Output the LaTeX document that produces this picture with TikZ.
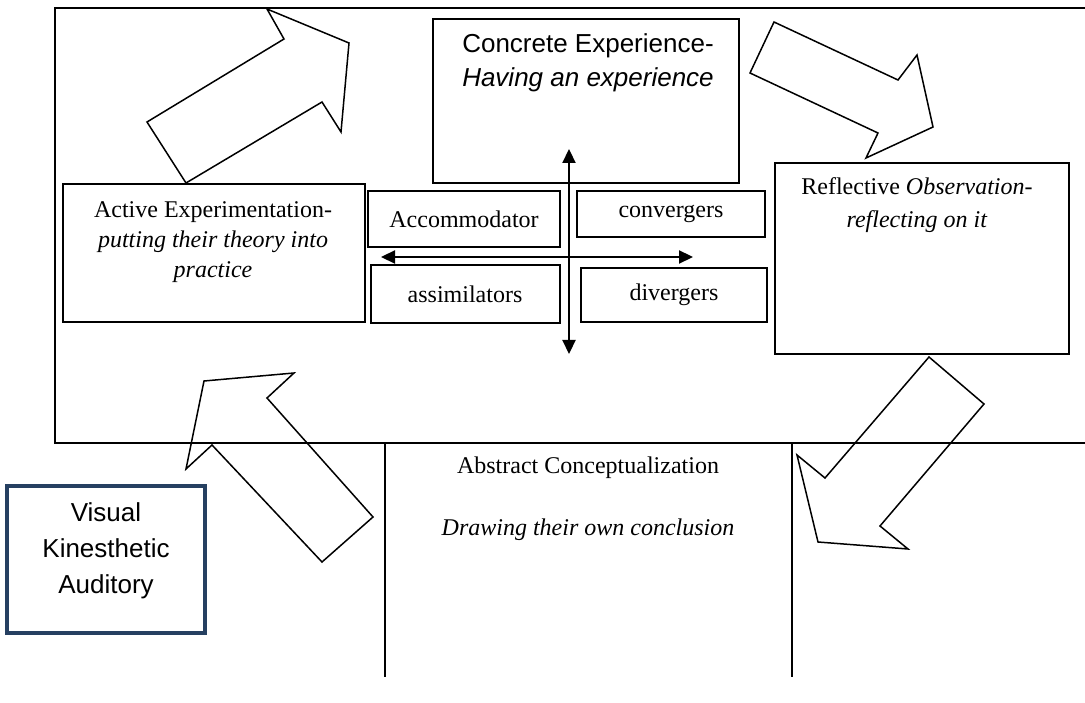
\documentclass[tikz,border=0pt]{standalone}
\usepackage{fontspec}
\setmainfont{Liberation Serif}
\newfontfamily\arialf{Liberation Sans}
\usetikzlibrary{arrows.meta}
\definecolor{navy}{RGB}{38,64,97}
\begin{document}
\begin{tikzpicture}[x=1pt,y=-1pt,
  box/.style={draw, line width=1.6pt, inner sep=0pt, outer sep=0pt, anchor=north west},
  frameline/.style={line width=2.6pt},
  divline/.style={line width=1.6pt},
  blockarrow/.style={draw, line width=1.5pt, line join=miter},
  axis/.style={line width=2.2pt, {Triangle[length=14pt,width=13pt]}-{Triangle[length=14pt,width=13pt]}},
  serif/.style={font=\fontsize{24}{30}\selectfont, align=center, inner sep=0pt},
  sans/.style={font=\arialf\fontsize{26}{34}\selectfont, align=center, inner sep=0pt}]
\useasboundingbox (0,0) rectangle (1085,703);

% outer frame
\coordinate (ftl) at (55,8);
\coordinate (ftr) at (1085,8);
\coordinate (fbl) at (55,443);
\coordinate (fbr) at (1085,443);
\draw[frameline] (ftr) -- (ftl) -- (fbl) -- (fbr);
% lower column lines
\coordinate (c1t) at (385,443);
\coordinate (c1b) at (385,677);
\coordinate (c2t) at (792,443);
\coordinate (c2b) at (792,677);
\draw[divline] (c1t) -- (c1b);
\draw[divline] (c2t) -- (c2b);

% boxes
\node[box, minimum width=306pt, minimum height=164pt] (ce) at (433,19) {};
\node[box, minimum width=294pt, minimum height=191pt] (ro) at (775,163) {};
\node[box, minimum width=302pt, minimum height=138pt] (ae) at (63,184) {};
\node[box, minimum width=192pt, minimum height=56pt] (acc) at (368,191) {};
\node[box, minimum width=188pt, minimum height=46pt] (con) at (577,191) {};
\node[box, minimum width=189pt, minimum height=58pt] (ass) at (371,265) {};
\node[box, minimum width=186pt, minimum height=54pt] (div) at (581,268) {};
\node[draw=navy, line width=4pt, inner sep=0pt, outer sep=0pt, anchor=north west,
      minimum width=198pt, minimum height=147pt] (vka) at (7,486) {};

% texts
\node[sans] (cet) at (588,63) {Concrete Experience-\\\textit{Having an experience}};
\node[serif] (aet) at (213,242) {Active Experimentation-\\\textit{putting their theory into}\\\textit{practice}};
\node[serif, font=\fontsize{24}{33}\selectfont] (rot) at (917,205) {Reflective \textit{Observation-}\\\textit{reflecting on it}};
\node[serif] (acct) at (464,219) {Accommodator};
\node[serif] (cont) at (671,214) {convergers};
\node[serif] (asst) at (465,294) {assimilators};
\node[serif] (divt) at (674,295) {divergers};
\node[serif] (act) at (588,468) {Abstract Conceptualization};
\node[serif] (dtc) at (588,530) {\textit{Drawing their own conclusion}};
\node[sans, font=\arialf\fontsize{26}{36}\selectfont] (vkat) at (106,551) {Visual\\Kinesthetic\\Auditory};

% central axes
\coordinate (vt) at (569,149);
\coordinate (vb) at (569,354);
\coordinate (hl) at (381,257);
\coordinate (hr) at (693,257);
\draw[axis] (vt) -- (vb);
\draw[axis] (hl) -- (hr);

% block arrows
\draw[blockarrow] (147,122) -- (284,39) -- (267,9) -- (349,43) -- (341,132) -- (322,102) -- (186,183) -- cycle;
\draw[blockarrow] (774,22) -- (898,80) -- (917,55) -- (933,127) -- (866,158) -- (878,133) -- (750,73) -- cycle;
\draw[blockarrow] (929,357) -- (984,404) -- (880,526) -- (908,549) -- (818,542) -- (797,455) -- (825,478) -- cycle;
\draw[blockarrow] (373,517) -- (267,398) -- (294,373) -- (204,381) -- (186,469) -- (212,445) -- (322,562) -- cycle;
\end{tikzpicture}
\end{document}
